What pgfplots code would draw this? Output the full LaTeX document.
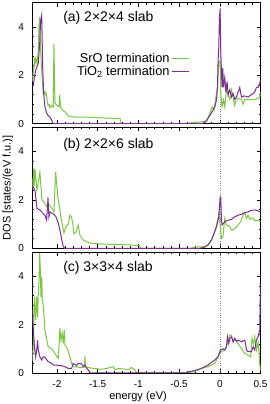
\documentclass[border=0pt]{standalone}
\usepackage{fontspec}
\setmainfont{Liberation Sans}
\usepackage{pgfplots}
\pgfplotsset{compat=1.18}
\definecolor{srogreen}{RGB}{122,200,62}
\definecolor{tipurple}{RGB}{125,45,150}
\pgfplotsset{
  dospanel/.style={
    scale only axis, width=228pt, height=121pt,
    xmin=-2.3, xmax=0.5, ymin=0, ymax=5,
    xtick={-2,-1.5,-1,-0.5,0,0.5},
    ytick={0,2,4}, yticklabels={0,2,4},
    minor x tick num=4, minor y tick num=4,
    tick align=inside, major tick length=4pt, minor tick length=2pt,
    tick style={black, line width=0.5pt},
    axis line style={line width=0.6pt},
    every tick label/.append style={font=\fontsize{10}{12}\selectfont},
    yticklabel style={xshift=-5pt},
    xticklabel style={yshift=-4pt},
    clip=true,
  },
  srostyle/.style={srogreen, line width=1.0pt, no marks},
  tistyle/.style={tipurple, line width=1.0pt, no marks},
}
\begin{document}
\begin{tikzpicture}
\useasboundingbox (0,0) rectangle (269pt,404pt);
% ---------------- panel (a)
\begin{axis}[dospanel, at={(32.5pt,280.3pt)}, anchor=south west,
  xticklabels={},
  legend style={draw=none, fill=none, inner sep=0pt, at={(axis cs:-0.368,3.0)}, anchor=north east,
    font=\fontsize{12.8}{14}\selectfont, row sep=-2pt,
    /tikz/every even column/.append style={column sep=4pt}},
  legend plot pos=right, legend cell align=right,
  legend image code/.code={\draw[#1, line width=1.1pt] (0pt,0pt) -- (17pt,0pt);},
]
\addplot[gray, dotted, line width=0.4pt, forget plot] coordinates {(0,0) (0,5)};
\addplot[srostyle] table {
-2.300 1.74
-2.289 2.20
-2.277 2.60
-2.270 2.45
-2.261 2.70
-2.245 2.50
-2.229 3.00
-2.221 4.00
-2.212 4.40
-2.200 3.00
-2.187 2.20
-2.175 1.60
-2.168 1.27
-2.160 1.35
-2.147 1.20
-2.136 1.30
-2.126 1.10
-2.110 0.75
-2.098 0.80
-2.086 0.65
-2.065 0.75
-2.045 0.70
-2.037 3.30
-2.025 0.90
-2.012 0.80
-1.988 0.72
-1.975 0.70
-1.967 1.19
-1.955 0.68
-1.940 0.60
-1.920 0.52
-1.902 0.50
-1.880 0.40
-1.861 0.32
-1.840 0.30
-1.800 0.28
-1.750 0.27
-1.700 0.27
-1.650 0.28
-1.600 0.26
-1.550 0.26
-1.500 0.25
-1.450 0.24
-1.400 0.23
-1.350 0.23
-1.300 0.22
-1.250 0.22
-1.227 0.23
-1.210 0.00
-0.400 0.00
-0.350 0.04
-0.300 0.06
-0.245 0.07
-0.200 0.08
-0.160 0.09
-0.147 0.23
-0.094 0.70
-0.070 0.55
-0.053 0.98
-0.028 1.53
-0.012 2.60
0.004 2.60
0.012 1.27
0.028 0.70
0.045 0.98
0.061 0.70
0.082 1.40
0.102 1.20
0.123 1.00
0.144 1.40
0.163 1.10
0.184 0.75
0.200 1.00
0.225 1.05
0.266 1.00
0.286 0.80
0.307 1.00
0.347 0.99
0.429 1.00
0.470 1.05
0.491 1.10
0.500 1.30
};
\addlegendentry{SrO termination}
\addplot[tistyle] table {
-2.300 1.55
-2.289 1.60
-2.277 1.94
-2.261 2.20
-2.245 2.35
-2.229 2.50
-2.212 3.30
-2.200 4.28
-2.187 4.49
-2.175 2.35
-2.163 1.26
-2.147 0.70
-2.126 0.44
-2.107 0.33
-2.086 0.28
-2.065 0.15
-2.045 0.00
-0.209 0.00
-0.184 0.05
-0.144 0.22
-0.102 0.45
-0.061 0.70
-0.040 0.98
-0.028 1.53
-0.021 2.60
-0.012 3.18
-0.004 4.42
0.004 4.73
0.012 3.00
0.021 2.08
0.028 1.50
0.037 2.30
0.045 1.50
0.061 1.90
0.075 1.30
0.090 1.75
0.102 1.20
0.123 1.40
0.144 1.10
0.163 1.25
0.184 1.00
0.205 1.10
0.245 1.50
0.266 1.10
0.300 1.15
0.347 1.10
0.389 1.20
0.429 1.30
0.450 1.50
0.470 1.50
0.491 1.68
0.500 1.80
};
\addlegendentry{TiO\textsubscript{2} termination}
\node[anchor=west, inner sep=0pt, font=\fontsize{14}{16}\selectfont] at (rel axis cs:0.134,0.874) {(a) 2×2×4 slab};
\end{axis}
% ---------------- panel (b)
\begin{axis}[dospanel, at={(32.5pt,155.7pt)}, anchor=south west,
  xticklabels={},
  ylabel={DOS [states/(eV f.u.)]},
  ylabel style={at={(axis description cs:-0.108,0.5)}, anchor=center, font=\fontsize{11}{13}\selectfont},
]
\addplot[gray, dotted, line width=0.4pt] coordinates {(0,0) (0,5)};
\addplot[srostyle] table {
-2.300 2.88
-2.293 2.47
-2.284 3.29
-2.277 2.60
-2.270 3.29
-2.245 2.40
-2.209 3.15
-2.184 2.00
-2.160 1.92
-2.123 1.71
-2.098 1.80
-2.061 1.65
-2.037 1.50
-2.016 3.15
-1.988 2.10
-1.963 1.58
-1.939 1.04
-1.914 0.63
-1.890 0.90
-1.861 1.00
-1.840 1.37
-1.820 1.27
-1.804 1.00
-1.791 0.60
-1.767 0.66
-1.739 0.96
-1.718 0.55
-1.677 0.34
-1.636 0.27
-1.574 0.20
-1.500 0.19
-1.400 0.17
-1.300 0.16
-1.200 0.15
-1.100 0.14
-1.020 0.12
-0.990 0.12
-0.970 0.00
-0.360 0.00
-0.330 0.02
-0.300 0.05
-0.245 0.06
-0.184 0.07
-0.144 0.14
-0.102 0.34
-0.070 0.62
-0.040 0.96
-0.021 1.23
-0.009 1.50
0.004 0.96
0.021 0.41
0.040 0.50
0.061 1.23
0.082 0.96
0.123 0.90
0.144 0.75
0.184 0.80
0.225 0.96
0.258 1.10
0.286 1.37
0.307 1.48
0.328 1.23
0.347 1.37
0.368 1.20
0.400 1.25
0.429 1.14
0.470 1.15
0.500 1.10
};
\addplot[tistyle] table {
-2.300 2.60
-2.287 2.50
-2.270 2.40
-2.245 1.65
-2.209 1.58
-2.172 1.45
-2.147 1.35
-2.126 1.16
-2.110 2.10
-2.098 1.30
-2.086 1.50
-2.061 1.45
-2.037 1.40
-2.012 1.30
-1.988 1.10
-1.963 0.75
-1.939 0.34
-1.923 0.07
-1.902 0.00
-0.245 0.00
-0.184 0.05
-0.144 0.14
-0.102 0.34
-0.070 0.62
-0.040 0.89
-0.012 1.30
0.000 1.90
0.004 2.12
0.012 2.10
0.021 1.10
0.028 0.96
0.061 1.10
0.102 1.16
0.144 1.20
0.184 1.30
0.225 1.37
0.266 1.40
0.307 1.48
0.347 1.50
0.389 1.57
0.429 1.58
0.470 1.55
0.500 1.50
};
\node[anchor=west, inner sep=0pt, font=\fontsize{14}{16}\selectfont] at (rel axis cs:0.134,0.855) {(b) 2×2×6 slab};
\end{axis}
% ---------------- panel (c)
\begin{axis}[dospanel, at={(32.5pt,31pt)}, anchor=south west,
  xticklabels={-2,-1.5,-1,-0.5,0,0.5},
  xlabel={energy (eV)},
  xlabel style={at={(axis description cs:0.463,0)}, anchor=center, yshift=-24pt, font=\fontsize{11}{13}\selectfont},
]
\addplot[gray, dotted, line width=0.4pt] coordinates {(0,0) (0,5)};
\addplot[srostyle] table {
-2.300 0.50
-2.290 1.22
-2.277 3.15
-2.261 2.19
-2.249 3.15
-2.237 2.30
-2.229 3.29
-2.221 3.70
-2.212 4.95
-2.205 4.38
-2.196 3.15
-2.187 3.97
-2.180 3.00
-2.168 2.80
-2.147 1.77
-2.107 1.08
-2.065 1.00
-2.025 0.81
-1.984 0.60
-1.975 1.08
-1.963 1.86
-1.951 1.36
-1.935 1.64
-1.923 1.22
-1.910 1.77
-1.902 1.15
-1.881 1.08
-1.861 0.88
-1.840 0.67
-1.820 0.40
-1.800 0.26
-1.739 0.24
-1.697 0.22
-1.662 0.25
-1.656 0.70
-1.650 0.25
-1.574 0.20
-1.493 0.17
-1.472 0.15
-1.390 0.19
-1.309 0.26
-1.288 0.13
-1.248 0.19
-1.170 0.16
-1.125 0.13
-1.083 0.23
-1.050 0.14
-1.015 0.00
-0.410 0.00
-0.368 0.02
-0.307 0.06
-0.225 0.19
-0.144 0.26
-0.061 0.40
-0.021 0.67
0.000 0.81
0.021 0.88
0.061 0.95
0.082 1.08
0.102 1.36
0.123 1.56
0.144 1.57
0.163 1.29
0.184 1.42
0.225 1.22
0.266 1.01
0.307 0.81
0.347 0.74
0.380 0.67
0.396 1.43
0.414 1.20
0.429 1.50
0.450 0.95
0.470 1.29
0.491 0.40
0.500 0.10
};
\addplot[tistyle] table {
-2.300 2.60
-2.291 1.84
-2.284 1.50
-2.282 1.43
-2.277 1.08
-2.261 0.67
-2.249 0.95
-2.237 1.36
-2.229 0.95
-2.209 0.67
-2.187 0.54
-2.168 0.67
-2.150 0.65
-2.126 0.55
-2.107 0.47
-2.065 0.40
-2.045 0.33
-2.000 0.33
-1.984 0.30
-1.942 0.30
-1.902 0.26
-1.861 0.19
-1.820 0.19
-1.800 0.40
-1.780 0.35
-1.758 0.30
-1.739 0.40
-1.700 0.38
-1.677 0.26
-1.656 0.33
-1.636 0.20
-1.616 0.13
-1.595 0.00
-0.420 0.00
-0.389 0.05
-0.307 0.10
-0.225 0.19
-0.144 0.33
-0.061 0.54
-0.021 0.67
0.000 0.88
0.012 0.95
0.040 1.00
0.061 0.95
0.082 1.08
0.094 1.50
0.110 1.22
0.123 1.43
0.144 1.50
0.163 1.29
0.184 1.43
0.205 1.30
0.225 1.36
0.266 1.29
0.307 1.36
0.328 0.95
0.347 0.88
0.389 0.88
0.409 1.08
0.429 0.95
0.450 1.36
0.470 1.50
0.491 1.77
0.500 3.70
};
\node[anchor=west, inner sep=0pt, font=\fontsize{14}{16}\selectfont] at (rel axis cs:0.134,0.865) {(c) 3×3×4 slab};
\end{axis}
\end{tikzpicture}
\end{document}
